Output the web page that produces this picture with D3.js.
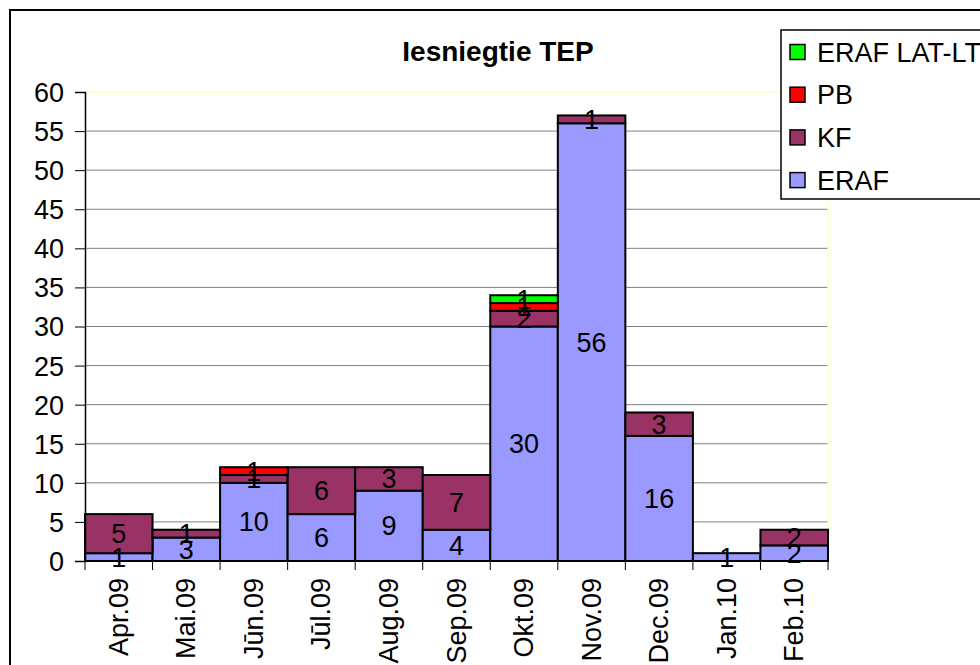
<!DOCTYPE html>
<html><head><meta charset="utf-8">
<script src="https://cdn.jsdelivr.net/npm/d3@7"></script>
<style>body{margin:0;background:#fff;}svg{display:block;font-family:Arial,"Liberation Sans",sans-serif;}</style>
</head><body>
<svg id="c" width="980" height="665"></svg>
<script>
const categories = ["Apr.09","Mai.09","Jūn.09","Jūl.09","Aug.09","Sep.09","Okt.09","Nov.09","Dec.09","Jan.10","Feb.10"];
const seriesNames = ["ERAF","KF","PB","ERAF LAT-LT"];
const ERAF = [1,3,10,6,9,4,30,56,16,1,2];
const KF = [5,1,1,6,3,7,2,1,3,0,2];
const PB = [0,0,1,0,0,0,1,0,0,0,0];
const ERAF_LATLT = [0,0,0,0,0,0,1,0,0,0,0];
const yTicks = [0,5,10,15,20,25,30,35,40,45,50,55,60];
const colors = {"ERAF":"#9999FF","KF":"#993366","PB":"#FF0000","ERAF LAT-LT":"#00FF00"};

const svg = d3.select("#c");
const L=85,R=828,T=92,B=561;
const FONT = "Arial,'Liberation Sans',sans-serif";
const FS = 27;
const x = d3.scaleBand().domain(categories).range([L,R]).padding(0);
const y = d3.scaleLinear().domain([0,60]).range([B,T]);

// outer border
svg.append("rect").attr("x",10).attr("y",10).attr("width",985).attr("height",670).attr("fill","#fff").attr("stroke","#000").attr("stroke-width",2);

// title
svg.append("text").attr("x",498).attr("y",61).attr("text-anchor","middle").attr("font-size",28).attr("font-weight","bold").text("Iesniegtie TEP");

// gridlines
svg.append("g").selectAll("line").data(yTicks.filter(d=>d>0&&d<60)).join("line")
 .attr("x1",L).attr("x2",R).attr("y1",d=>y(d)).attr("y2",d=>y(d)).attr("stroke","#808080").attr("stroke-width",1);
// plot area top/right border light yellow
svg.append("line").attr("x1",L).attr("x2",R).attr("y1",y(60)).attr("y2",y(60)).attr("stroke","#FFFFC0").attr("stroke-width",1.5);
svg.append("line").attr("x1",R).attr("x2",R).attr("y1",T).attr("y2",B).attr("stroke","#FFFFC0").attr("stroke-width",1.5);

// stacked data
const rows = categories.map((c,i)=>({cat:c,"ERAF":ERAF[i],"KF":KF[i],"PB":PB[i],"ERAF LAT-LT":ERAF_LATLT[i]}));
const stack = d3.stack().keys(seriesNames)(rows);
const g = svg.append("g");
stack.forEach(s=>{
  s.forEach(d=>{
    const v = d[1]-d[0];
    if(v<=0) return;
    g.append("rect").attr("x",x(d.data.cat)).attr("width",x.bandwidth())
     .attr("y",y(d[1])).attr("height",y(d[0])-y(d[1]))
     .attr("fill",colors[s.key]).attr("stroke","#000").attr("stroke-width",2);
  });
});
stack.forEach(s=>{
  s.forEach(d=>{
    const v = d[1]-d[0];
    if(v<=0) return;
    g.append("text").attr("x",x(d.data.cat)+x.bandwidth()/2).attr("y",(y(d[0])+y(d[1]))/2+9.5)
     .attr("text-anchor","middle").attr("font-size",FS).attr("fill","#000").text(v);
  });
});

// y axis
const ya = svg.append("g").attr("transform",`translate(${L},0)`)
 .call(d3.axisLeft(y).tickValues(yTicks).tickSize(10).tickPadding(11));
ya.selectAll("text").attr("font-size",FS).attr("fill","#000").attr("font-family",FONT).attr("dy","0.35em");
ya.select(".domain").attr("stroke","#000").attr("stroke-width",1.5);
ya.selectAll(".tick line").attr("stroke","#000");

// x axis line
svg.append("line").attr("x1",L).attr("x2",R).attr("y1",B).attr("y2",B).attr("stroke","#000").attr("stroke-width",1.5);
// x ticks between categories
const bounds = categories.map(c=>x(c)).concat([R]);
svg.append("g").selectAll("line").data(bounds).join("line")
 .attr("x1",d=>d).attr("x2",d=>d).attr("y1",B).attr("y2",B+9).attr("stroke","#000");
// x labels rotated
svg.append("g").selectAll("text").data(categories).join("text")
 .attr("transform",d=>`translate(${x(d)+x.bandwidth()/2+9},578) rotate(-90)`)
 .attr("text-anchor","end").attr("font-size",FS).attr("fill","#000").text(d=>d);

// legend
const lg = svg.append("g");
lg.append("rect").attr("x",781).attr("y",30).attr("width",210).attr("height",169).attr("fill","#fff").attr("stroke","#000").attr("stroke-width",1.5);
const legendItems = ["ERAF LAT-LT","PB","KF","ERAF"];
legendItems.forEach((k,i)=>{
  const cy = 52 + i*42.7;
  lg.append("rect").attr("x",790).attr("y",cy-7.5).attr("width",15).attr("height",15).attr("fill",colors[k]).attr("stroke","#000").attr("stroke-width",1.5);
  lg.append("text").attr("x",817).attr("y",cy+9.5).attr("font-size",FS).attr("fill","#000").text(k);
});
</script>
</body></html>
